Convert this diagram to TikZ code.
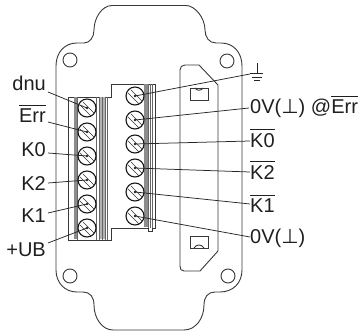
\documentclass[tikz,border=0pt]{standalone}
\usepackage{fontspec}
\setmainfont{Liberation Sans}
\newfontfamily\djv{DejaVu Sans}
\newcommand\olbar[1]{\vbox{\hrule height .7pt \kern 4pt\hbox{#1}}}
\newcommand\upt{{\djv ⊥}}
\tikzset{
 outl/.style={draw=black!78,line width=.9pt},
 lead/.style={draw=black!85,line width=.75pt},
 stripe/.style={draw=black!60,line width=.5pt},
 lab/.style={inner sep=0pt,font=\fontsize{20pt}{21pt}\selectfont,text=black!88},
 screw/.style={circle,draw=black!90,line width=1.1pt,minimum size=18pt,inner sep=0pt,fill=white},
}
\newcommand\slot[1]{%
 \draw[black!80,line width=.5pt] ([shift={(-7pt,3pt)}]#1.center) -- ([shift={(4pt,-8pt)}]#1.center) ;
 \draw[black!80,line width=.5pt] ([shift={(-4pt,6pt)}]#1.center) -- ([shift={(7pt,-5pt)}]#1.center) ;
 \fill[black!85] (#1.center) circle (1.3pt);
}
\begin{document}
\begin{tikzpicture}[x=1pt,y=-1pt]
\useasboundingbox (0,0) rectangle (359,331);
% housing
\draw[outl] (112,5.5) -- (186,5.5)
  .. controls (195,5.5) and (205,18) .. (205,30)
  .. controls (205,37) and (209,43) .. (216,43)
  -- (221,43) .. controls (234,43) and (242,53) .. (242,66)
  -- (242,270) .. controls (242,283) and (233,292) .. (220,292)
  -- (215,292) .. controls (208,292) and (204,297) .. (204,305)
  .. controls (204,318) and (196,330) .. (184,330)
  -- (113,330) .. controls (102,330) and (94,318) .. (94,305)
  .. controls (94,297) and (90,292) .. (83,292)
  -- (77,292) .. controls (65,292) and (56,283) .. (56,270)
  -- (56,66) .. controls (56,53) and (64,43) .. (77,43)
  -- (84,43) .. controls (90,43) and (94,37) .. (94,30)
  .. controls (94,18) and (102,5.5) .. (112,5.5) -- cycle;
\draw[outl] (70,60) circle (7pt) (227,61) circle (7pt) (70,276) circle (7pt) (228,276) circle (7pt);
% connector plate
\draw[outl] (180,70) .. controls (180,67) and (182,65) .. (185,65) -- (199,65) -- (218,85) -- (218,251) -- (200,271) -- (184,271) .. controls (181,271) and (180,269) .. (180,266) -- cycle;
\draw[outl] (190,88) rectangle (208,100);
\draw[outl] (195,88) .. controls (197,91) and (201,91) .. (203,88);
\draw[outl] (190,236) rectangle (208,248);
\draw[outl] (194,248) .. controls (196,244) and (202,244) .. (204,248);
% terminal block
\draw[outl] (68,97) -- (111,97) -- (111,84) -- (155,84) -- (155,228) -- (152,228) -- (152,231) -- (148,231) -- (148,228) -- (111,228) -- (111,240) -- (68,240) -- cycle;
\fill[black!45] (74,97.5) rectangle (77,239.5);
\fill[black!45] (144,84.5) rectangle (148,227.5);
\fill[black!30] (99,97.5) rectangle (105,239.5);
\draw[stripe] (77,97) -- (77,240) (96.5,97) -- (96.5,240) (99,97) -- (99,240) (102,97) -- (102,240) (105,97) -- (105,240) (107,97) -- (107,240);
\draw[stripe] (148,84) -- (148,228) (150,84) -- (150,228) (152,84) -- (152,228);
% screws
\foreach \n/\y in {a/108,b/132,c/156,d/180,e/204,f/228}
  \node[screw] (L\n) at (87,\y) {};
\foreach \n/\y in {a/96,b/120,c/144,d/168,e/192,f/216}
  \node[screw] (R\n) at (135,\y) {};
\foreach \n in {La,Lb,Lc,Ld,Le,Lf,Ra,Rb,Rc,Rd,Re,Rf} {\slot{\n}}
% labels
\node[lab,anchor=base east] (tdnu) at (46,91) {dnu};
\node[lab,anchor=base east] (terr) at (46,123) {\olbar{Err}};
\node[lab,anchor=base east] (tk0) at (46,157) {K0};
\node[lab,anchor=base east] (tk2) at (46,190.5) {K2};
\node[lab,anchor=base east] (tk1) at (46,223) {K1};
\node[lab,anchor=base east] (tub) at (46,257) {+UB};
\node[lab,anchor=base west] (r0v) at (250,114) {0V(\upt) @\olbar{Err}};
\node[lab,anchor=base west] (rk0) at (250,148) {\olbar{K0}};
\node[lab,anchor=base west] (rk2) at (250,180) {\olbar{K2}};
\node[lab,anchor=base west] (rk1) at (250,213) {\olbar{K1}};
\node[lab,anchor=base west] (r0b) at (250,243.5) {0V(\upt)};
% ground symbol
\draw[lead] (257,63) -- (257,73) (250,73.5) -- (263,73.5);
\draw[lead] (252,77) -- (262,77) (254,80) -- (260,80);
\node[inner sep=0pt,minimum size=0pt] (gs) at (250,74) {};
% leaders
\coordinate (c1) at (48,92); \coordinate (c2) at (48,122); \coordinate (c3) at (48,153);
\coordinate (c4) at (48,183); \coordinate (c5) at (48,213); \coordinate (c6) at (48,243);
\coordinate (d2) at (249,108); \coordinate (d3) at (250,141); \coordinate (d4) at (250,172);
\coordinate (d5) at (250,204); \coordinate (d6) at (250,237);
\draw[lead] (c1) -- (La.center);
\draw[lead] (c2) -- (Lb.center);
\draw[lead] (c3) -- (Lc.center);
\draw[lead] (c4) -- (Ld.center);
\draw[lead] (c5) -- (Le.center);
\draw[lead] (c6) -- (Lf.center);
\draw[lead] (gs) -- (Ra.center);
\draw[lead] (d2) -- (Rb.center);
\draw[lead] (d3) -- (Rc.center);
\draw[lead] (d4) -- (Rd.center);
\draw[lead] (d5) -- (Re.center);
\draw[lead] (d6) -- (Rf.center);
\end{tikzpicture}
\end{document}
